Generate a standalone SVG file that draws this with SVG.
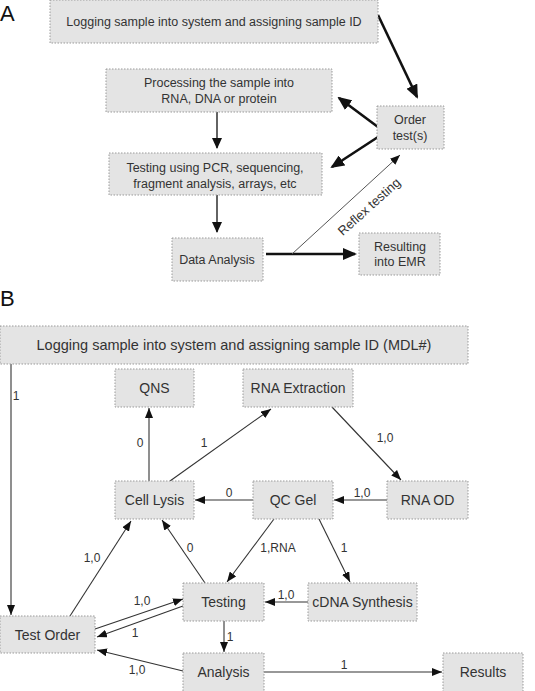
<svg xmlns="http://www.w3.org/2000/svg" width="535" height="691" viewBox="0 0 535 691">
<defs>
<style>
.box{fill:#e4e4e4;stroke:#9a9a9a;stroke-width:1;stroke-dasharray:1.5 1.5}
.t{font-family:"Liberation Sans",Arial,sans-serif;fill:#333;text-anchor:middle}
.ta{font-size:12.5px}
.tb{font-size:14px}
.lbl{font-family:"Liberation Sans",Arial,sans-serif;fill:#333;font-size:12px;text-anchor:middle}
.big{font-family:"Liberation Sans",Arial,sans-serif;fill:#111;font-size:22px}
.thick{stroke:#111;stroke-width:2.6;fill:none}
.thin{stroke:#222;stroke-width:1.4;fill:none}
.cb{stroke:#333;stroke-width:1.1;fill:none}
</style>
<marker id="ha" viewBox="0 0 14 12" refX="12" refY="6" markerWidth="14" markerHeight="12" markerUnits="userSpaceOnUse" orient="auto"><path d="M0,0 L14,6 L0,12 z" fill="#111"/></marker>
<marker id="hm" viewBox="0 0 11 10" refX="10" refY="5" markerWidth="11" markerHeight="10" markerUnits="userSpaceOnUse" orient="auto"><path d="M0,0 L11,5 L0,10 z" fill="#111"/></marker>
<marker id="hb" viewBox="0 0 10 8" refX="10" refY="4" markerWidth="10" markerHeight="8" markerUnits="userSpaceOnUse" orient="auto"><path d="M0,0 L10,4 L0,8 z" fill="#111"/></marker>
</defs>

<text class="big" x="0" y="21">A</text>
<text class="big" x="0" y="306">B</text>

<g id="connectors">
<!-- Part A -->
<line class="thick" x1="378" y1="15" x2="417" y2="97" marker-end="url(#ha)"/>
<line class="thin" x1="217" y1="112" x2="217" y2="148" marker-end="url(#hm)"/>
<line class="thick" x1="378" y1="127" x2="339" y2="98" marker-end="url(#ha)"/>
<line class="thick" x1="378" y1="137" x2="332" y2="167" marker-end="url(#ha)"/>
<line class="thin" x1="217" y1="195" x2="217" y2="232" marker-end="url(#hm)"/>
<line class="thick" x1="266" y1="254" x2="355" y2="254" marker-end="url(#ha)"/>
<line stroke="#555" stroke-width="1" x1="292" y1="254" x2="400" y2="155" marker-end="url(#hb)"/>
<text class="lbl" style="font-size:13px" x="0" y="0" transform="translate(372,210) rotate(-42)">Reflex testing</text>

<!-- Part B -->
<line class="cb" x1="11" y1="364" x2="11" y2="615" marker-end="url(#hb)"/>
<text class="lbl" x="16" y="400">1</text>
<line class="cb" x1="149" y1="481" x2="149" y2="408" marker-end="url(#hb)"/>
<text class="lbl" x="140" y="447">0</text>
<line class="cb" x1="170" y1="481" x2="271" y2="409" marker-end="url(#hb)"/>
<text class="lbl" x="204" y="447">1</text>
<line class="cb" x1="332" y1="407" x2="401" y2="480" marker-end="url(#hb)"/>
<text class="lbl" x="385" y="442">1,0</text>
<line class="cb" x1="253" y1="500" x2="195" y2="500" marker-end="url(#hb)"/>
<text class="lbl" x="229" y="497">0</text>
<line class="cb" x1="387" y1="500" x2="334" y2="500" marker-end="url(#hb)"/>
<text class="lbl" x="362" y="497">1,0</text>
<line class="cb" x1="274" y1="519" x2="227" y2="582" marker-end="url(#hb)"/>
<text class="lbl" x="278" y="552">1,RNA</text>
<line class="cb" x1="319" y1="519" x2="350" y2="582" marker-end="url(#hb)"/>
<text class="lbl" x="344" y="552">1</text>
<line class="cb" x1="308" y1="602" x2="265" y2="602" marker-end="url(#hb)"/>
<text class="lbl" x="286" y="599">1,0</text>
<line class="cb" x1="205" y1="583" x2="162" y2="520" marker-end="url(#hb)"/>
<text class="lbl" x="190" y="552">0</text>
<line class="cb" x1="70" y1="616" x2="131" y2="521" marker-end="url(#hb)"/>
<text class="lbl" x="92" y="562">1,0</text>
<line class="cb" x1="95" y1="629" x2="183" y2="599" marker-end="url(#hb)"/>
<text class="lbl" x="142" y="605">1,0</text>
<line class="cb" x1="183" y1="606" x2="97" y2="637" marker-end="url(#hb)"/>
<text class="lbl" x="135" y="637">1</text>
<line class="cb" x1="224" y1="621" x2="224" y2="652" marker-end="url(#hb)"/>
<text class="lbl" x="230" y="641">1</text>
<line class="cb" x1="183" y1="671" x2="97" y2="650" marker-end="url(#hb)"/>
<text class="lbl" x="137" y="674">1,0</text>
<line class="cb" x1="264" y1="672" x2="442" y2="672" marker-end="url(#hb)"/>
<text class="lbl" x="344" y="669">1</text>
</g>

<!-- Part A nodes -->
<g id="a-log"><rect class="box" x="50" y="0" width="328" height="43"/><text class="t ta" x="214" y="26">Logging sample into system and assigning sample ID</text></g>
<g id="a-proc"><rect class="box" x="106" y="69" width="226" height="43"/><text class="t ta" x="219" y="87">Processing the sample into</text><text class="t ta" x="219" y="103">RNA, DNA or protein</text></g>
<g id="a-order"><rect class="box" x="377" y="106" width="67" height="43"/><text class="t ta" x="410" y="124">Order</text><text class="t ta" x="410" y="140">test(s)</text></g>
<g id="a-test"><rect class="box" x="109" y="153" width="213" height="42"/><text class="t ta" x="215" y="172">Testing using PCR, sequencing,</text><text class="t ta" x="215" y="188">fragment analysis, arrays, etc</text></g>
<g id="a-data"><rect class="box" x="172" y="238" width="91" height="43"/><text class="t ta" x="217" y="264">Data Analysis</text></g>
<g id="a-result"><rect class="box" x="359" y="233" width="81" height="42"/><text class="t ta" x="400" y="251">Resulting</text><text class="t ta" x="400" y="266">into EMR</text></g>

<!-- Part B nodes -->
<g id="b-log"><rect class="box" x="0" y="326" width="468" height="38"/><text class="t" style="font-size:14.5px" x="234" y="350">Logging sample into system and assigning sample ID (MDL#)</text></g>
<g id="b-qns"><rect class="box" x="115" y="369" width="79" height="38"/><text class="t tb" x="154.5" y="393">QNS</text></g>
<g id="b-rnaext"><rect class="box" x="243" y="369" width="110" height="38"/><text class="t tb" x="298" y="393">RNA Extraction</text></g>
<g id="b-lysis"><rect class="box" x="115" y="481" width="79" height="38"/><text class="t tb" x="154.5" y="505">Cell Lysis</text></g>
<g id="b-qcgel"><rect class="box" x="253" y="481" width="80" height="38"/><text class="t tb" x="293" y="505">QC Gel</text></g>
<g id="b-rnaod"><rect class="box" x="387" y="481" width="81" height="38"/><text class="t tb" x="427.5" y="505">RNA OD</text></g>
<g id="b-testing"><rect class="box" x="183" y="583" width="81" height="38"/><text class="t tb" x="223.5" y="607">Testing</text></g>
<g id="b-cdna"><rect class="box" x="308" y="583" width="109" height="38"/><text class="t tb" x="362.5" y="607">cDNA Synthesis</text></g>
<g id="b-order"><rect class="box" x="0" y="616" width="95" height="37"/><text class="t tb" x="47.5" y="640">Test Order</text></g>
<g id="b-analysis"><rect class="box" x="183" y="653" width="81" height="40"/><text class="t tb" x="223.5" y="677">Analysis</text></g>
<g id="b-results"><rect class="box" x="443" y="653" width="80" height="40"/><text class="t tb" x="483" y="677">Results</text></g>
</svg>
